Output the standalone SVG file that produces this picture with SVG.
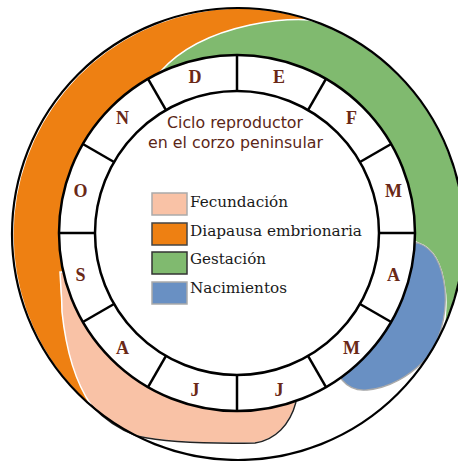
<svg xmlns="http://www.w3.org/2000/svg" width="458" height="461" viewBox="0 0 458 461">
<style>
.mon{font-family:"Liberation Serif","Times New Roman",serif;font-weight:bold;font-size:18px;fill:#6a2816;text-anchor:middle}
.ttl{font-family:"DejaVu Sans","Liberation Sans",sans-serif;font-size:15px;fill:#5b2617;text-anchor:middle}
.leg{font-family:"DejaVu Serif","Liberation Serif",serif;font-size:15px;fill:#1a1a1a}
.div{stroke:#000;stroke-width:2.5;fill:none}
</style>
<rect width="458" height="461" fill="#fff"/>
<g id="phases">
<path id="diapausa" d="M310,20 A226,226 0 0 0 91,405 C 78,385 66,350 62,312 C 61,298 60,285 60,272 L150,233 L200,150 L160,72 Q190,38 250,25 Q285,18 310,20 Z" fill="#ee8012"/>
<path id="gestacion" d="M160,72 Q190,38 250,25 Q285,18 310,20 A226,226 0 0 1 444,327 C 446,312 447,300 445,290 C 442,262 433,248 418,243 L330,200 L200,140 Z" fill="#80ba6f" stroke="#fff" stroke-width="1.5"/>
<path id="nacimientos" d="M418,243 C 433,248 442,262 445,290 C 447,315 440,345 423,362 C 410,375 390,388 367,390 C 357,391 348,387 342,380 L300,300 L380,240 Z" fill="#6990c3" stroke="#aaa" stroke-width="1.3"/>
<path id="fecundacion" d="M60,272 C 61,290 62,300 62,312 C 66,350 76,383 91,405 C 105,420 120,430 137,436 C 160,441 200,444 255,443 C 275,440 290,425 296,402 L230,330 L120,280 Z" fill="#f9c2a6" stroke="#fff" stroke-width="1.5"/>
<path d="M91,405 C 105,420 120,430 137,436 C 160,441 200,444 255,443 C 275,440 290,425 296,402" fill="none" stroke="#222" stroke-width="1.4"/>
</g>
<circle cx="238" cy="234" r="226" fill="none" stroke="#000" stroke-width="2.2"/>
<g id="ring">
<circle cx="237" cy="233" r="178" fill="#fff" stroke="#000" stroke-width="2.5"/>
<circle cx="237" cy="233" r="142" fill="#fff" stroke="#000" stroke-width="2.5"/>
</g>
<g id="connectors">
<line class="div" x1="237" y1="91" x2="237" y2="55"/>
<line class="div" x1="308" y1="110.03" x2="326" y2="78.85"/>
<line class="div" x1="359.97" y1="162" x2="391.15" y2="144"/>
<line class="div" x1="379" y1="233" x2="415" y2="233"/>
<line class="div" x1="359.97" y1="304" x2="391.15" y2="322"/>
<line class="div" x1="308" y1="355.97" x2="326" y2="387.15"/>
<line class="div" x1="237" y1="375" x2="237" y2="411"/>
<line class="div" x1="166" y1="355.97" x2="148" y2="387.15"/>
<line class="div" x1="114.03" y1="304" x2="82.85" y2="322"/>
<line class="div" x1="95" y1="233" x2="59" y2="233"/>
<line class="div" x1="114.03" y1="162" x2="82.85" y2="144"/>
<line class="div" x1="166" y1="110.03" x2="148" y2="78.85"/>
</g>
<g id="months">
<text class="mon" x="278.9" y="82.5">E</text>
<text class="mon" x="351.6" y="124.4">F</text>
<text class="mon" x="393.5" y="197.1">M</text>
<text class="mon" x="393.5" y="280.9">A</text>
<text class="mon" x="351.6" y="353.6">M</text>
<text class="mon" x="278.9" y="395.5">J</text>
<text class="mon" x="195.1" y="395.5">J</text>
<text class="mon" x="122.4" y="353.6">A</text>
<text class="mon" x="80.5" y="280.9">S</text>
<text class="mon" x="80.5" y="197.1">O</text>
<text class="mon" x="122.4" y="124.4">N</text>
<text class="mon" x="195.1" y="82.5">D</text>
</g>
<g id="title">
<text class="ttl" x="235" y="128" textLength="136" lengthAdjust="spacingAndGlyphs">Ciclo reproductor</text>
<text class="ttl" x="235.5" y="148" textLength="175" lengthAdjust="spacingAndGlyphs">en el corzo peninsular</text>
</g>
<g id="legend">
<g id="leg-fec"><rect x="152" y="193" width="35" height="22" fill="#f9c2a6" stroke="#aaa" stroke-width="1.5"/><text class="leg" x="190" y="207" textLength="98" lengthAdjust="spacingAndGlyphs">Fecundación</text></g>
<g id="leg-dia"><rect x="152" y="223" width="35" height="22" fill="#ee8012" stroke="#444" stroke-width="1.5"/><text class="leg" x="190" y="236" textLength="172" lengthAdjust="spacingAndGlyphs">Diapausa embrionaria</text></g>
<g id="leg-ges"><rect x="152" y="252" width="35" height="22" fill="#80ba6f" stroke="#333" stroke-width="1.5"/><text class="leg" x="190" y="264" textLength="76" lengthAdjust="spacingAndGlyphs">Gestación</text></g>
<g id="leg-nac"><rect x="152" y="282" width="35" height="22" fill="#6990c3" stroke="#aaa" stroke-width="1.5"/><text class="leg" x="190" y="293" textLength="97" lengthAdjust="spacingAndGlyphs">Nacimientos</text></g>
</g>
</svg>
